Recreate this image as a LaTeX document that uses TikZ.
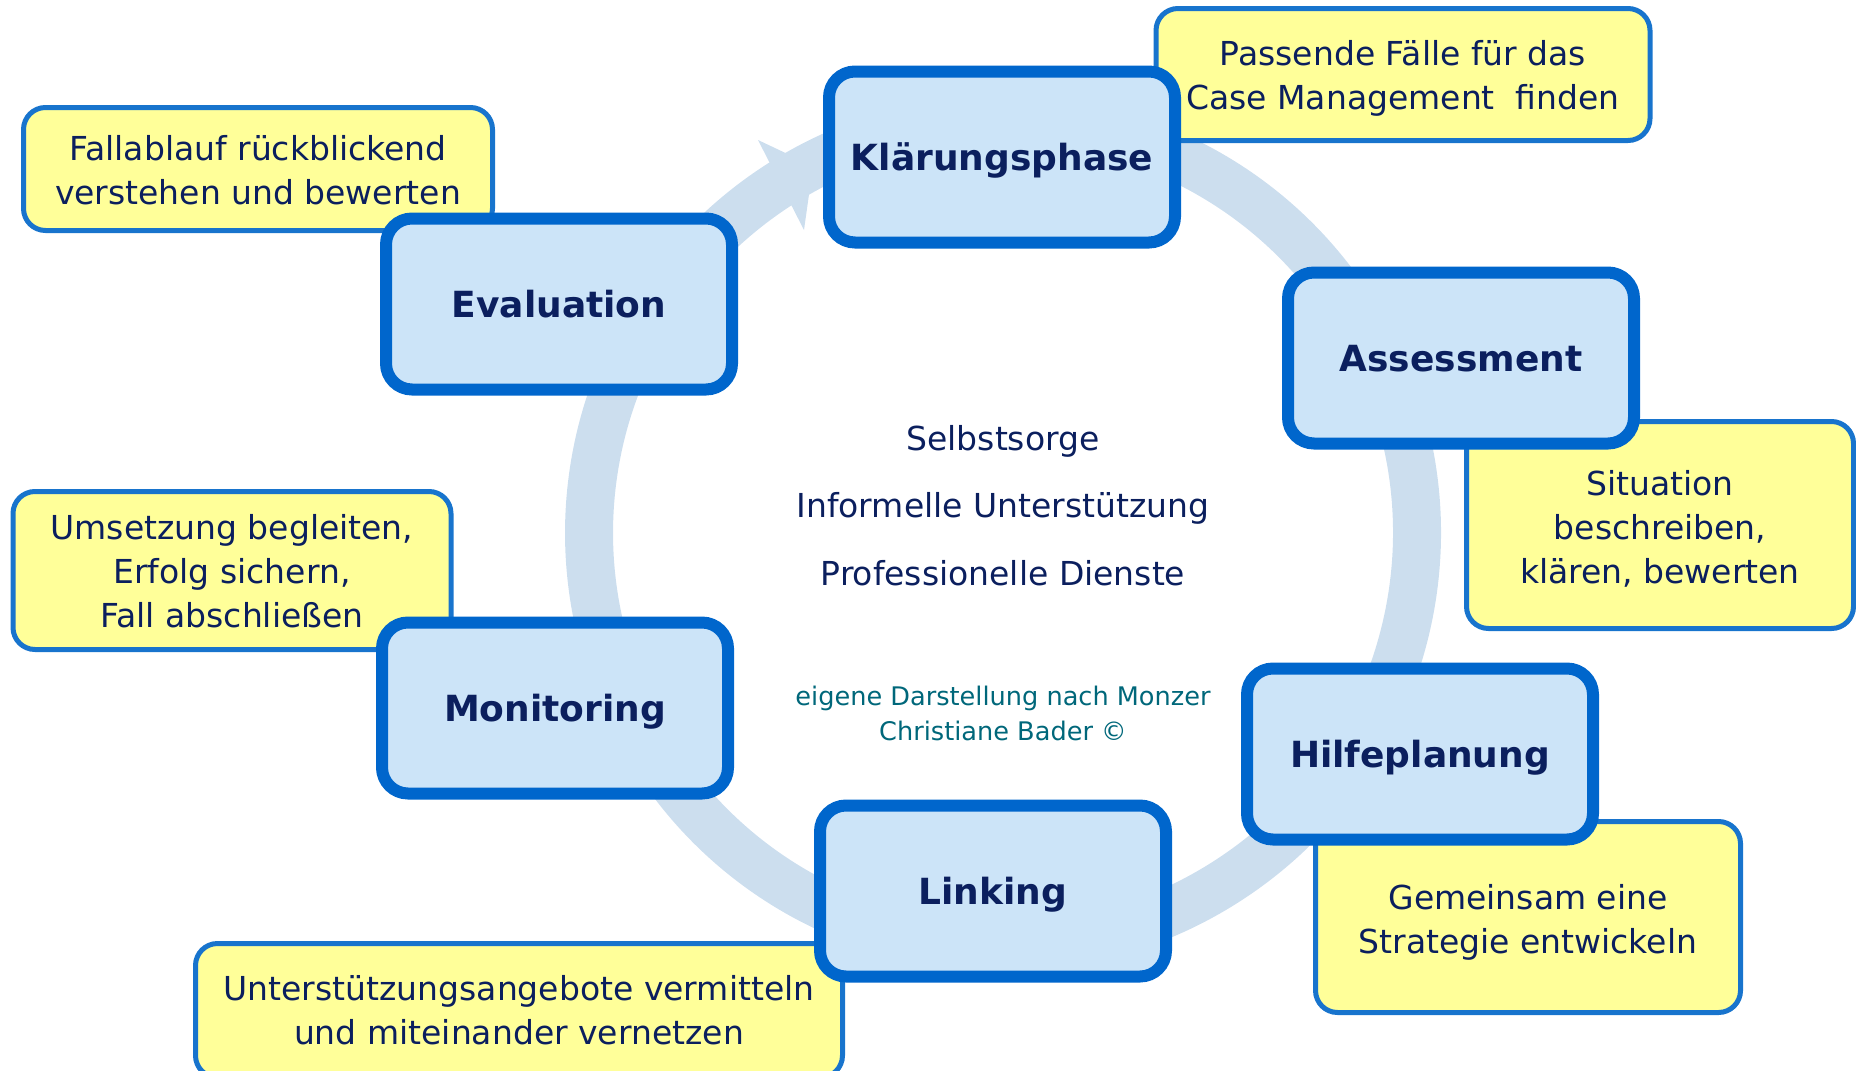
\documentclass[tikz,border=0pt]{standalone}
\usepackage{fontspec}
\setmainfont{DejaVu Sans}
\definecolor{navy}{HTML}{0B1F5E}
\definecolor{boxblue}{HTML}{0066CC}
\definecolor{boxfill}{HTML}{CCE4F8}
\definecolor{yel}{HTML}{FFFF99}
\definecolor{yelborder}{HTML}{1874CD}
\definecolor{ringc}{HTML}{CCDEEE}
\definecolor{copyc}{HTML}{00677A}
\begin{document}
\begin{tikzpicture}[x=1pt,y=1pt,
  phase/.style={draw=boxblue, fill=boxfill, line width=12pt, rounded corners=26pt,
    minimum width=346pt, minimum height=171pt, text=navy, inner sep=0pt,
    text height=27pt, text depth=0pt,
    font=\fontsize{36}{43}\selectfont\bfseries},
  note/.style={draw=yelborder, fill=yel, line width=5pt, rounded corners=22pt, inner sep=0pt},
  notetext/.style={text=navy, inner sep=0pt, align=center, font=\fontsize{33}{44}\selectfont},
  centertext/.style={text=navy, inner sep=0pt, text height=25pt, text depth=0pt,
    font=\fontsize{33}{40}\selectfont},
]
\useasboundingbox (0,0) rectangle (1856,-1071);
% ring with arrow
\coordinate (c) at (1003,-533);
\draw[ringc, line width=48pt] (c) ++(122.6:414) arc[start angle=122.6, end angle=-250, radius=414];
\coordinate (w1) at (758,-140);
\coordinate (tip) at (813,-166);
\coordinate (w2) at (804,-230);
\fill[ringc] (w1) -- (tip) -- (w2) -- cycle;
% notes
\node[note, minimum width=494pt, minimum height=132pt] (n1) at (1403,-74.5) {};
\node[notetext] (n1t) at ([yshift=-4pt]n1.center) {Passende Fälle für das\\Case Management\ \ finden};
\node[note, minimum width=469pt, minimum height=123pt] (n2) at (258,-169) {};
\node[notetext] (n2t) at ([yshift=-1pt]n2.center) {Fallablauf rückblickend\\verstehen und bewerten};
\node[note, minimum width=387pt, minimum height=207pt] (n3) at (1660,-525) {};
\node[notetext] (n3t) at ([yshift=-4pt]n3.center) {Situation\\beschreiben,\\klären, bewerten};
\node[note, minimum width=438pt, minimum height=158pt] (n4) at (232,-570.5) {};
\node[notetext] (n4t) at ([yshift=-1pt]n4.center) {Umsetzung begleiten,\\Erfolg sichern,\\Fall abschließen};
\node[note, minimum width=425pt, minimum height=191pt] (n5) at (1528,-917) {};
\node[notetext] (n5t) at ([yshift=-5pt]n5.center) {Gemeinsam eine\\Strategie entwickeln};
\node[note, minimum width=647pt, minimum height=134pt] (n6) at (519,-1010.5) {};
\node[notetext] (n6t) at (n6.center) {Unterstützungsangebote vermitteln\\und miteinander vernetzen};
% phases
\node[phase] (k) at (1002,-157) {Klärungsphase};
\node[phase] (e) at (559,-304) {Evaluation};
\node[phase] (a) at (1461,-358) {Assessment};
\node[phase] (h) at (1420,-754) {Hilfeplanung};
\node[phase] (l) at (993,-891) {Linking};
\node[phase] (m) at (555,-708) {Monitoring};
% center text
\node[centertext] (t1) at (1003,-438) {Selbstsorge};
\node[centertext] (t2) at (1003,-505) {Informelle Unterstützung};
\node[centertext] (t3) at (1003,-573) {Professionelle Dienste};
\node[text=copyc, inner sep=0pt, align=center, font=\fontsize{25.6}{35}\selectfont] (cp) at (1003,-713.5)
  {eigene Darstellung nach Monzer\\Christiane Bader ©};
\end{tikzpicture}
\end{document}
